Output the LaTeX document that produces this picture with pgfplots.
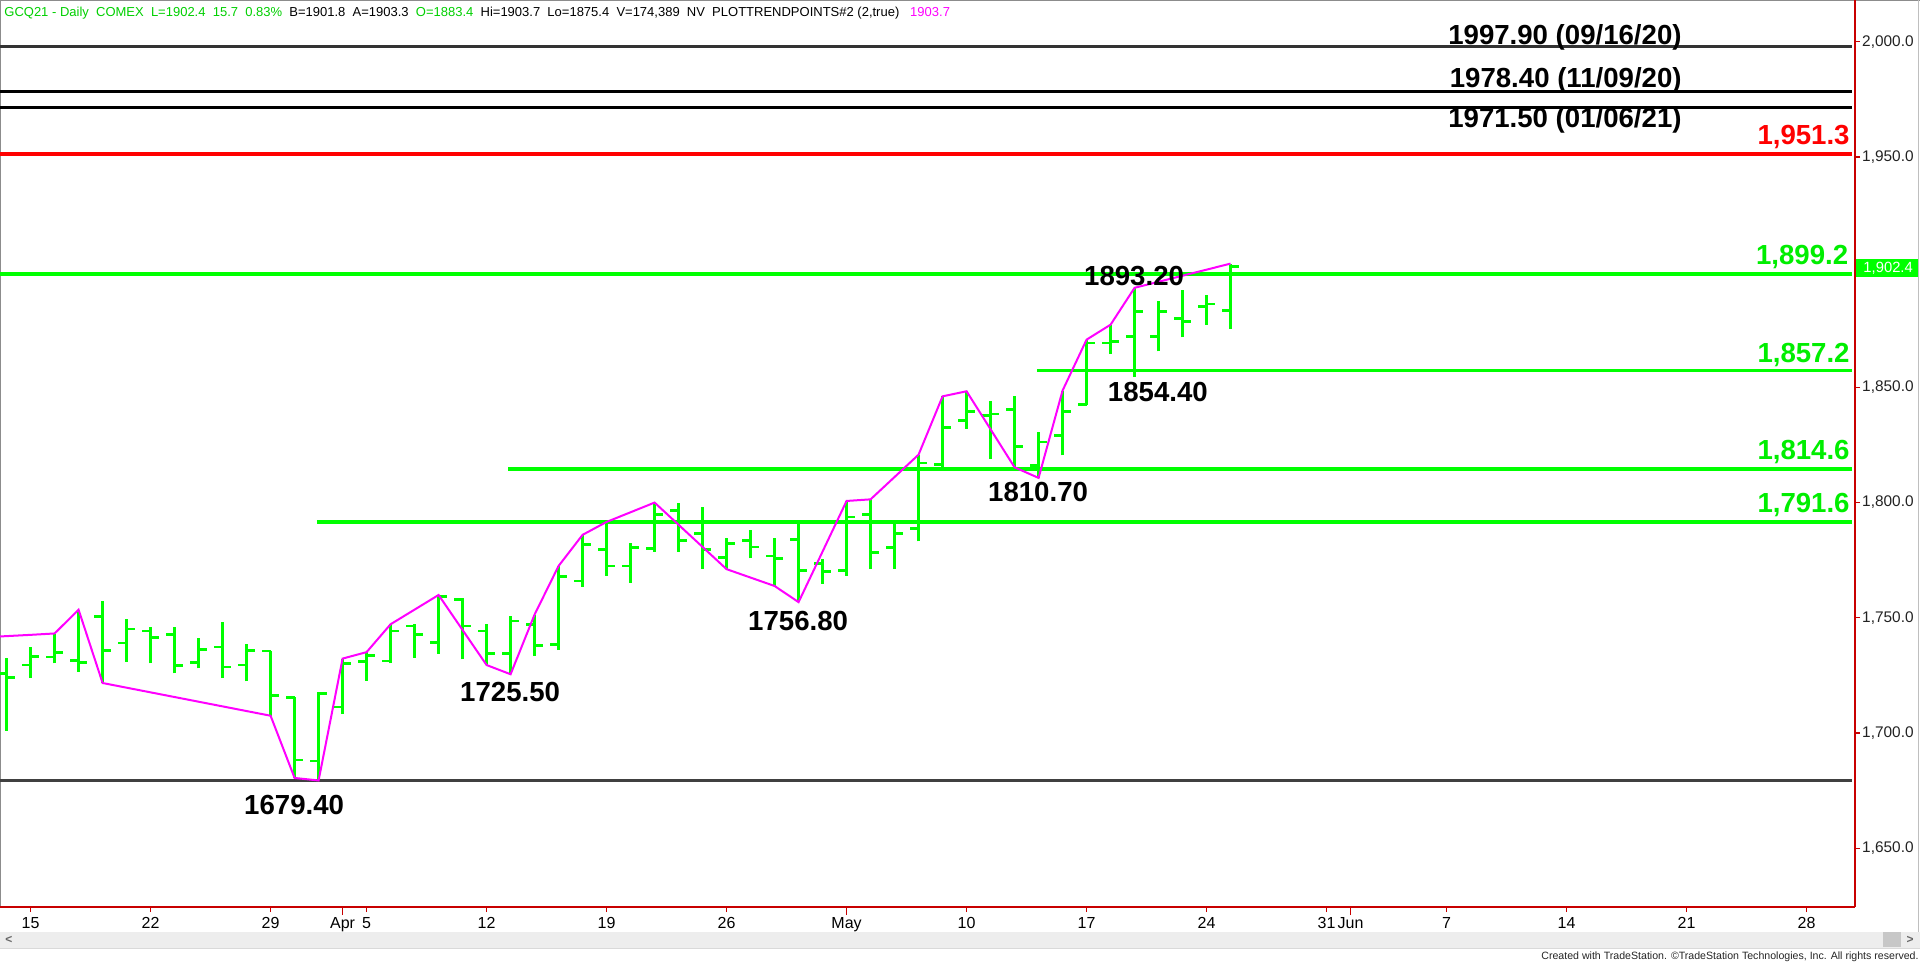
\documentclass[border=0pt]{standalone}
\usepackage{pgfplots}
\pgfplotsset{compat=1.18}
\usepackage{pgfplotstable}
\usepackage{fontspec}
\setmainfont{Liberation Sans}
\definecolor{barg}{HTML}{00FF00}
\definecolor{lblg}{HTML}{00EE00}
\definecolor{hdrg}{HTML}{00D000}
\definecolor{mag}{HTML}{FF00FF}
\definecolor{axred}{HTML}{C80000}
\definecolor{tcol}{HTML}{222222}

\pgfplotstableread{
i o h l c
-1 1725.9 1732.5 1701.0 1724.1
0 1729.5 1737.3 1723.8 1733.3
1 1733.0 1742.9 1730.2 1734.8
2 1731.6 1753.5 1726.6 1730.6
3 1750.7 1757.5 1721.7 1735.8
4 1739.1 1749.3 1730.9 1745.1
5 1744.3 1745.8 1730.2 1741.5
6 1742.9 1745.8 1725.9 1729.2
7 1730.6 1741.1 1728.0 1736.3
8 1737.3 1748.2 1723.8 1728.7
9 1729.5 1738.7 1722.4 1735.8
10 1735.6 1735.8 1707.5 1716.3
11 1715.3 1715.6 1680.5 1688.3
12 1687.9 1717.7 1679.4 1717.1
13 1711.3 1732.3 1708.2 1730.2
14 1730.9 1735.1 1722.6 1733.7
15 1731.2 1747.2 1730.2 1744.3
16 1746.5 1747.2 1732.6 1742.9
17 1739.4 1759.9 1734.4 1759.2
18 1757.8 1758.5 1732.0 1746.5
19 1744.3 1747.2 1729.5 1734.4
20 1734.4 1750.7 1725.5 1748.6
21 1747.2 1751.4 1733.4 1738.0
22 1738.5 1772.5 1736.0 1768.0
23 1766.0 1786.0 1763.4 1781.9
24 1779.7 1791.6 1768.2 1772.5
25 1772.5 1782.6 1765.3 1780.5
26 1780.2 1800.0 1778.7 1794.9
27 1796.7 1800.0 1778.7 1783.6
28 1786.5 1798.1 1771.1 1779.7
29 1776.1 1784.8 1771.1 1782.2
30 1783.4 1788.0 1775.8 1780.7
31 1776.8 1784.8 1763.8 1775.8
32 1784.1 1791.3 1756.8 1770.6
33 1773.5 1775.4 1764.8 1770.0
34 1770.6 1800.7 1768.2 1793.8
35 1794.9 1801.4 1771.1 1778.3
36 1780.5 1791.3 1771.1 1786.5
37 1788.7 1820.8 1783.2 1817.2
38 1816.5 1846.1 1815.3 1832.7
39 1835.7 1848.3 1832.1 1839.6
40 1837.9 1844.0 1819.1 1838.5
41 1840.4 1846.1 1815.3 1824.4
42 1816.2 1830.7 1810.7 1826.3
43 1829.2 1848.6 1820.5 1839.6
44 1842.7 1870.7 1842.4 1869.2
45 1869.2 1877.2 1864.4 1869.9
46 1872.1 1893.2 1854.4 1883.0
47 1872.1 1887.3 1865.6 1883.0
48 1879.8 1892.4 1871.7 1878.6
49 1885.2 1890.2 1877.2 1886.2
50 1883.4 1903.7 1875.4 1902.4
}\bars

\pgfplotstableread{
i v
-1.275 1741.9
0 1742.6
1 1743.2
2 1753.5
3 1721.7
10 1707.5
11 1680.5
12 1679.4
13 1732.3
14 1735.1
15 1747.2
17 1759.9
19 1729.5
20 1725.5
21 1751.4
22 1772.5
23 1786.0
24 1791.6
26 1800.0
29 1771.1
31 1763.8
32 1756.8
34 1800.7
35 1801.4
37 1820.8
38 1846.1
39 1848.3
41 1815.3
42 1810.7
43 1848.6
44 1870.7
45 1877.2
46 1893.2
50 1903.7
}\trend

\begin{document}
\begin{tikzpicture}
\useasboundingbox (0,0) rectangle (960pt,481.5pt);
\fill[white] (0,0) rectangle (960pt,481.5pt);
% frame
\draw[black!45, line width=0.5pt] (0,481.2pt) -- (960pt,481.2pt);
\draw[black!45, line width=0.5pt] (0.25pt,28pt) -- (0.25pt,481.5pt);
\draw[black!25, line width=0.5pt] (959.2pt,15.5pt) -- (959.2pt,481.5pt);
% scrollbar band
\fill[black!7] (0,7.5pt) rectangle (960pt,15.5pt);
\draw[black!15, line width=0.5pt] (0,7.5pt) -- (960pt,7.5pt);
\fill[black!22] (941.5pt,7.8pt) rectangle (950.5pt,15.5pt);
\node[font=\fontsize{6pt}{7pt}\selectfont, text=black!60, inner sep=0pt] at (955pt,11.5pt) {\textbf{>}};
\node[font=\fontsize{6pt}{7pt}\selectfont, text=black!60, inner sep=0pt] at (4.5pt,11.5pt) {\textbf{<}};
% footer
\node[anchor=east, inner sep=0pt, font=\fontsize{5.3pt}{6pt}\selectfont, text=black!85] at (959.5pt,2.9pt) {Created with TradeStation. \textcopyright TradeStation Technologies, Inc. All rights reserved.};
% header
\node[anchor=base west, inner sep=0pt, font=\fontsize{6.5pt}{8pt}\selectfont] at (2pt,473.2pt) {\textcolor{hdrg}{GCQ21 - Daily\ \ COMEX\ \ L=1902.4\ \ 15.7\ \ 0.83\%}\ \ B=1901.8\ \ A=1903.3\ \ \textcolor{hdrg}{O=1883.4}\ \ Hi=1903.7\ \ Lo=1875.4\ \ V=174,389\ \ NV\ \ PLOTTRENDPOINTS\#2 (2,true)\ \ \ \textcolor{mag}{1903.7}};

\begin{axis}[
  at={(0pt,28pt)}, anchor=south west,
  width=927.5pt, height=453.5pt, scale only axis,
  xmin=-1.275, xmax=76.02, ymin=1624.5, ymax=2018.1,
  clip=false,
  axis x line*=bottom, axis y line*=right,
  axis line style={axred, line width=0.6pt, -},
  tick style={axred, line width=0.6pt},
  tick align=outside, major tick length=2.5pt,
  xtick={0,5,10,13,14,19,24,29,34,39,44,49,54,55,59,64,69,74},
  xticklabels={15,22,29,Apr,5,12,19,26,May,10,17,24,31,Jun,7,14,21,28},
  extra x ticks={13,34,55}, extra x tick labels={},
  extra x tick style={major tick length=4pt},
  ytick={1650,1700,1750,1800,1850,1950,2000},
  /pgf/number format/assume math mode=true,
  yticklabel style={/pgf/number format/fixed, /pgf/number format/fixed zerofill,
    /pgf/number format/precision=1, /pgf/number format/1000 sep={,},
    anchor=west, inner sep=0pt, xshift=0.9pt, text=tcol,
    font=\fontsize{7.7pt}{9pt}\selectfont},
  xticklabel style={anchor=north, inner sep=0pt, yshift=-2.5pt, text=black,
    font=\fontsize{8pt}{9pt}\selectfont},
]
% horizontal levels
\addplot[black!80, line width=1.5pt] coordinates {(-1.275,1997.9) (75.9,1997.9)};
\addplot[black, line width=1.5pt] coordinates {(-1.275,1978.4) (75.9,1978.4)};
\addplot[black, line width=1.5pt] coordinates {(-1.275,1971.5) (75.9,1971.5)};
\addplot[red, line width=1.8pt] coordinates {(-1.275,1951.3) (75.9,1951.3)};
\addplot[barg, line width=1.7pt] coordinates {(-1.275,1899.2) (75.9,1899.2)};
\addplot[barg, line width=1.7pt] coordinates {(41.93,1857.2) (75.9,1857.2)};
\addplot[barg, line width=1.7pt] coordinates {(19.9,1814.6) (75.9,1814.6)};
\addplot[barg, line width=1.7pt] coordinates {(11.93,1791.6) (75.9,1791.6)};
\addplot[black!75, line width=1.7pt] coordinates {(-1.275,1679.4) (75.9,1679.4)};

% OHLC bars
\addplot[forget plot, draw=none, mark=none,
  error bars/.cd, y dir=plus, y explicit, error mark=none,
  error bar style={draw=barg, line width=1.35pt, solid}]
  table[x=i, y=l, y error expr=\thisrow{h}-\thisrow{l}] {\bars};
\addplot[forget plot, draw=none, mark=none,
  error bars/.cd, x dir=minus, x fixed=0.36, error mark=none,
  error bar style={draw=barg, line width=1.35pt, solid}]
  table[x=i, y=o] {\bars};
\addplot[forget plot, draw=none, mark=none,
  error bars/.cd, x dir=plus, x fixed=0.36, error mark=none,
  error bar style={draw=barg, line width=1.35pt, solid}]
  table[x=i, y=c] {\bars};

% trend points line
\addplot[mag, line width=1pt, mark=none] table[x=i, y=v] {\trend};

% level labels
\begin{scope}[every node/.style={inner sep=0pt, font=\fontsize{13.8pt}{15pt}\selectfont\bfseries}]
\node[anchor=base east] at (axis cs:68.81,1998.6) {1997.90 (09/16/20)};
\node[anchor=base east] at (axis cs:68.81,1979.95) {1978.40 (11/09/20)};
\node[anchor=base east] at (axis cs:68.81,1962.6) {1971.50 (01/06/21)};
\node[anchor=base east, text=red] at (axis cs:75.81,1955.6) {1,951.3};
\node[anchor=base east, text=lblg] at (axis cs:75.75,1903.1) {1,899.2};
\node[anchor=base east, text=lblg] at (axis cs:75.81,1861.0) {1,857.2};
\node[anchor=base east, text=lblg] at (axis cs:75.81,1818.5) {1,814.6};
\node[anchor=base east, text=lblg] at (axis cs:75.81,1795.5) {1,791.6};
\node[anchor=base] at (axis cs:45.98,1894.4) {1893.20};
\node[anchor=base] at (axis cs:46.97,1843.7) {1854.40};
\node[anchor=base] at (axis cs:41.98,1800.3) {1810.70};
\node[anchor=base] at (axis cs:31.98,1744.7) {1756.80};
\node[anchor=base] at (axis cs:19.98,1713.5) {1725.50};
\node[anchor=base] at (axis cs:10.98,1664.5) {1679.40};
\end{scope}
% last price box
\fill[barg] (axis cs:76.06,1905.7) rectangle (axis cs:78.65,1897.9);
\node[inner sep=0pt, text=white, font=\fontsize{7.4pt}{9pt}\selectfont] at (axis cs:77.4,1901.8) {1,902.4};
\end{axis}
\end{tikzpicture}
\end{document}
